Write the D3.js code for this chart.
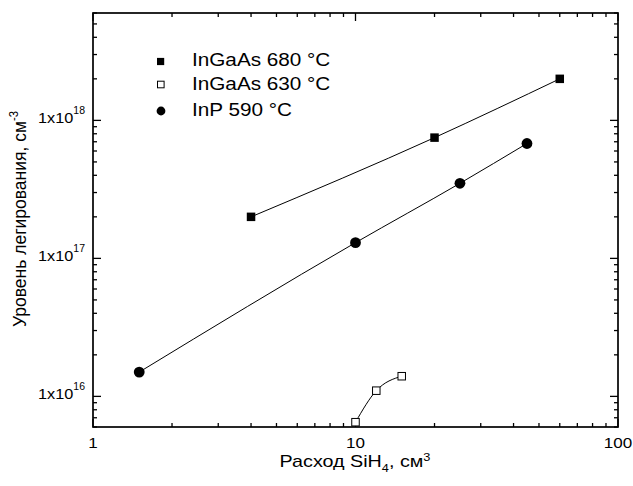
<!DOCTYPE html>
<html>
<head>
<meta charset="utf-8">
<script src="https://cdn.jsdelivr.net/npm/d3@7"></script>
<style>
body { margin: 0; background: #fff; }
svg { font-family: "Liberation Sans", Arial, sans-serif; }
</style>
</head>
<body>
<div id="chart"></div>
<script>
// data
var series680x = [4, 20, 60];
var series680y = [2e17, 7.5e17, 2e18];
var series630x = [10, 12, 15];
var series630y = [6.5e15, 1.1e16, 1.4e16];
var seriesInPx = [1.5, 10, 25, 45];
var seriesInPy = [1.5e16, 1.3e17, 3.5e17, 6.8e17];
var legendNames = ['InGaAs 680 °C', 'InGaAs 630 °C', 'InP 590 °C'];
var xTickValues = [1, 10, 100];
var yTickExps = [16, 17, 18];

var width = 633, height = 486;
var padL = 93, padR = 618, padT = 13, padB = 427;

var svg = d3.select('#chart').append('svg')
	.attr('width', width)
	.attr('height', height);

var x = d3.scaleLog().domain([1, 100]).range([padL, padR]);
var y = d3.scaleLog().domain([6e15, 6e18]).range([padB, padT]);

// minor ticks
var xMinor = [];
for (var d = 1; d < 100; d *= 10)
	for (var k = 2; k < 10; k++) xMinor.push(d * k);
var yMinor = [];
for (var e = 15; e <= 18; e++)
	for (var k = 2; k < 10; k++) {
		var v = k * Math.pow(10, e);
		if (v >= 6e15 && v <= 6e18) yMinor.push(v);
	}

function tickLines(g, vals, len, horiz, pos, dir) {
	g.selectAll(null).data(vals).enter().append('line')
		.attr('x1', function(v) { return horiz ? x(v) : pos; })
		.attr('x2', function(v) { return horiz ? x(v) : pos + dir * len; })
		.attr('y1', function(v) { return horiz ? pos : y(v); })
		.attr('y2', function(v) { return horiz ? pos + dir * len : y(v); })
		.attr('stroke', '#000')
		.attr('stroke-width', 1.3);
}

var axes = svg.append('g');
var yMajor = yTickExps.map(function(p) { return Math.pow(10, p); });
tickLines(axes, xTickValues, 8, true, padB, -1);
tickLines(axes, xMinor, 4, true, padB, -1);
tickLines(axes, xTickValues, 8, true, padT, 1);
tickLines(axes, xMinor, 4, true, padT, 1);
tickLines(axes, yMajor, 8, false, padL, 1);
tickLines(axes, yMinor, 4, false, padL, 1);
tickLines(axes, yMajor, 8, false, padR, -1);
tickLines(axes, yMinor, 4, false, padR, -1);

axes.append('rect')
	.attr('x', padL).attr('y', padT)
	.attr('width', padR - padL).attr('height', padB - padT)
	.attr('fill', 'none').attr('stroke', '#000').attr('stroke-width', 1.7);

// tick labels
axes.selectAll(null).data(xTickValues).enter().append('text')
	.attr('transform', function(v) { return 'translate(' + x(v) + ',448) scale(1.1,1)'; })
	.attr('text-anchor', 'middle')
	.attr('font-size', 15.5)
	.text(function(v) { return v; });

var yl = axes.selectAll(null).data(yTickExps).enter().append('text')
	.attr('transform', function(p) { return 'translate(85,' + (y(Math.pow(10, p)) + 3) + ') scale(1.05,1)'; })
	.attr('text-anchor', 'end')
	.attr('font-size', 15.5);
yl.append('tspan').text('1x10');
yl.append('tspan').attr('dy', -9).attr('font-size', 10).text(function(p) { return p; });

// axis titles
var xt = svg.append('text')
	.attr('transform', 'translate(355,467) scale(1.16,1)')
	.attr('text-anchor', 'middle')
	.attr('font-size', 17);
xt.append('tspan').text('Расход SiH');
xt.append('tspan').attr('dy', 5).attr('font-size', 11).text('4');
xt.append('tspan').attr('dy', -5).text(', см');
xt.append('tspan').attr('dy', -6).attr('font-size', 11).text('3');

var yt = svg.append('text')
	.attr('transform', 'translate(26,219) rotate(-90) scale(1.03,1.12)')
	.attr('text-anchor', 'middle')
	.attr('font-size', 17);
yt.append('tspan').text('Уровень легирования, см');
yt.append('tspan').attr('dy', -7).attr('font-size', 11).text('-3');

// lines
var line = d3.line()
	.x(function(d) { return x(d[0]); })
	.y(function(d) { return y(d[1]); })
	.curve(d3.curveMonotoneX);

function pairs(xs, ys) { return xs.map(function(v, i) { return [v, ys[i]]; }); }
var d680 = pairs(series680x, series680y);
var d630 = pairs(series630x, series630y);
var dInP = pairs(seriesInPx, seriesInPy);

[d680, d630, dInP].forEach(function(d) {
	svg.append('path').datum(d)
		.attr('d', line)
		.attr('fill', 'none')
		.attr('stroke', '#000')
		.attr('stroke-width', 1);
});

// markers
function squares(d, filled, s) {
	svg.selectAll(null).data(d).enter().append('rect')
		.attr('x', function(p) { return x(p[0]) - s / 2; })
		.attr('y', function(p) { return y(p[1]) - s / 2; })
		.attr('width', s).attr('height', s)
		.attr('fill', filled ? '#000' : '#fff')
		.attr('stroke', '#000')
		.attr('stroke-width', filled ? 0 : 1);
}
squares(d680, true, 8.5);
squares(d630, false, 7.5);
svg.selectAll(null).data(dInP).enter().append('circle')
	.attr('cx', function(p) { return x(p[0]); })
	.attr('cy', function(p) { return y(p[1]); })
	.attr('r', 5.4)
	.attr('fill', '#000');

// legend
var legY = [61.5, 84.5, 111];
var leg = svg.append('g');
leg.append('rect').attr('x', 157).attr('y', legY[0] - 3.6).attr('width', 7.2).attr('height', 7.2).attr('fill', '#000');
leg.append('rect').attr('x', 157.5).attr('y', legY[1] - 3.3).attr('width', 6.6).attr('height', 6.6)
	.attr('fill', '#fff').attr('stroke', '#000').attr('stroke-width', 1);
leg.append('circle').attr('cx', 161).attr('cy', legY[2]).attr('r', 4.4).attr('fill', '#000');
leg.selectAll(null).data(legendNames).enter().append('text')
	.attr('transform', function(t, i) { return 'translate(192,' + [66, 90, 116][i] + ') scale(1.12,1)'; })
	.attr('font-size', 18.5)
	.text(function(t) { return t; });
</script>
</body>
</html>
